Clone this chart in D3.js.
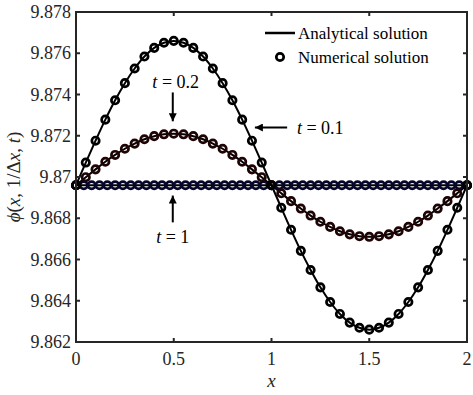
<!DOCTYPE html>
<html>
<head>
<meta charset="utf-8">
<script src="https://cdn.jsdelivr.net/npm/d3@7"></script>
<style>
  body { margin: 0; background: #fff; }
  svg text { font-family: "Liberation Serif", "DejaVu Serif", serif; }
</style>
</head>
<body>
<div id="chart"></div>
<script>
// x grid of the coarse curves (t = 0.1, 0.2)
const xGrid = [0, 0.05, 0.1, 0.15, 0.2, 0.25, 0.3, 0.35, 0.4, 0.45, 0.5, 0.55, 0.6, 0.65, 0.7, 0.75,
  0.8, 0.85, 0.9, 0.95, 1, 1.05, 1.1, 1.15, 1.2, 1.25, 1.3, 1.35, 1.4, 1.45, 1.5, 1.55, 1.6, 1.65,
  1.7, 1.75, 1.8, 1.85, 1.9, 1.95, 2];
// finer grid of the t = 1 curve
const xFine = [0, 0.04, 0.08, 0.12, 0.16, 0.2, 0.24, 0.28, 0.32, 0.36, 0.4, 0.44, 0.48, 0.52, 0.56,
  0.6, 0.64, 0.68, 0.72, 0.76, 0.8, 0.84, 0.88, 0.92, 0.96, 1, 1.04, 1.08, 1.12, 1.16, 1.2, 1.24,
  1.28, 1.32, 1.36, 1.4, 1.44, 1.48, 1.52, 1.56, 1.6, 1.64, 1.68, 1.72, 1.76, 1.8, 1.84, 1.88, 1.92,
  1.96, 2];

const phiT01 = [9.86960, 9.87070, 9.87176, 9.87278, 9.87372, 9.87455, 9.87526, 9.87584, 9.87626,
  9.87651, 9.87660, 9.87651, 9.87626, 9.87584, 9.87526, 9.87455, 9.87372, 9.87278, 9.87176, 9.87070,
  9.86960, 9.86851, 9.86744, 9.86642, 9.86549, 9.86465, 9.86394, 9.86336, 9.86294, 9.86269, 9.86260,
  9.86269, 9.86294, 9.86336, 9.86394, 9.86465, 9.86549, 9.86642, 9.86744, 9.86851, 9.86960];
const phiT02 = [9.86960, 9.86999, 9.87037, 9.87074, 9.87107, 9.87137, 9.87162, 9.87183, 9.87198,
  9.87207, 9.87210, 9.87207, 9.87198, 9.87183, 9.87162, 9.87137, 9.87107, 9.87074, 9.87037, 9.86999,
  9.86960, 9.86921, 9.86883, 9.86847, 9.86813, 9.86783, 9.86758, 9.86737, 9.86722, 9.86713, 9.86710,
  9.86713, 9.86722, 9.86737, 9.86758, 9.86783, 9.86813, 9.86847, 9.86883, 9.86921, 9.86960];
const phiT1 = xFine.map(() => 9.86960);

const yTicks = [9.862, 9.864, 9.866, 9.868, 9.87, 9.872, 9.874, 9.876, 9.878];
const xTicks = [0, 0.5, 1, 1.5, 2];

const width = 473, height = 395;
const margin = { left: 76, right: 6, top: 12, bottom: 53 };
const serif = '"Liberation Serif", "DejaVu Serif", serif';

const svg = d3.select('#chart').append('svg')
  .attr('width', width).attr('height', height);

const x = d3.scaleLinear().domain([0, 2]).range([margin.left, width - margin.right]);
const y = d3.scaleLinear().domain([9.862, 9.878]).range([height - margin.bottom, margin.top]);

const curves = [
  { xs: xGrid, ys: phiT01, color: '#000000' },
  { xs: xGrid, ys: phiT02, color: '#1e0404' },
  { xs: xFine, ys: phiT1, color: '#06062a' }
];

const line = d3.line().curve(d3.curveCatmullRom)
  .x(d => x(d[0])).y(d => y(d[1]));

// analytical lines
curves.forEach(c => {
  svg.append('path')
    .datum(c.xs.map((v, i) => [v, c.ys[i]]))
    .attr('d', line)
    .attr('fill', 'none')
    .attr('stroke', '#000')
    .attr('stroke-width', 2);
});

// numerical markers
curves.slice().reverse().forEach(c => {
  svg.append('g').selectAll('circle')
    .data(c.xs.map((v, i) => [v, c.ys[i]]))
    .join('circle')
    .attr('cx', d => x(d[0]))
    .attr('cy', d => y(d[1]))
    .attr('r', 3.7)
    .attr('fill', 'none')
    .attr('stroke', c.color)
    .attr('stroke-width', 2.7);
});

// axes box and ticks
const axisColor = '#262626';
const tickLen = 4;
const gAx = svg.append('g');
gAx.append('rect')
  .attr('x', x(0)).attr('y', y(9.878))
  .attr('width', x(2) - x(0)).attr('height', y(9.862) - y(9.878))
  .attr('fill', 'none').attr('stroke', axisColor).attr('stroke-width', 2);

yTicks.forEach(t => {
  gAx.append('line').attr('x1', x(0)).attr('x2', x(0) + tickLen)
    .attr('y1', y(t)).attr('y2', y(t)).attr('stroke', axisColor).attr('stroke-width', 2);
  gAx.append('line').attr('x1', x(2)).attr('x2', x(2) - tickLen)
    .attr('y1', y(t)).attr('y2', y(t)).attr('stroke', axisColor).attr('stroke-width', 2);
  gAx.append('text').attr('x', x(0) - 5).attr('y', y(t) + 6)
    .attr('text-anchor', 'end').attr('font-size', 18).attr('font-family', serif).attr('fill', '#262626')
    .text(d3.format('.3~f')(t));
});
xTicks.forEach(t => {
  gAx.append('line').attr('x1', x(t)).attr('x2', x(t))
    .attr('y1', y(9.862)).attr('y2', y(9.862) - tickLen).attr('stroke', axisColor).attr('stroke-width', 2);
  gAx.append('line').attr('x1', x(t)).attr('x2', x(t))
    .attr('y1', y(9.878)).attr('y2', y(9.878) + tickLen).attr('stroke', axisColor).attr('stroke-width', 2);
  gAx.append('text').attr('x', x(t)).attr('y', y(9.862) + 23)
    .attr('text-anchor', 'middle').attr('font-size', 18).attr('font-family', serif).attr('fill', '#262626')
    .text(t);
});

// axis labels
svg.append('text').attr('x', (x(0) + x(2)) / 2).attr('y', 387)
  .attr('text-anchor', 'middle').attr('font-size', 19).attr('font-style', 'italic')
  .attr('font-family', serif).attr('fill', '#262626').text('x');
svg.append('text')
  .attr('transform', `translate(20,${(y(9.862) + y(9.878)) / 2}) rotate(-90)`)
  .attr('text-anchor', 'middle').attr('font-size', 19).attr('font-family', serif).attr('fill', '#262626')
  .html('<tspan font-style="italic">ϕ</tspan>(<tspan font-style="italic">x</tspan>, 1/Δ<tspan font-style="italic">x</tspan>, <tspan font-style="italic">t</tspan>)');

// legend
const lg = svg.append('g');
lg.append('line').attr('x1', 265).attr('x2', 295).attr('y1', 33).attr('y2', 33)
  .attr('stroke', '#000').attr('stroke-width', 2.5);
lg.append('text').attr('x', 298).attr('y', 39).attr('font-size', 17).attr('font-family', serif)
  .text('Analytical solution');
lg.append('circle').attr('cx', 280).attr('cy', 57).attr('r', 3.7)
  .attr('fill', 'none').attr('stroke', '#000').attr('stroke-width', 2.7);
lg.append('text').attr('x', 298).attr('y', 63).attr('font-size', 17).attr('font-family', serif)
  .text('Numerical solution');

// annotations
svg.append('defs').append('marker')
  .attr('id', 'head').attr('viewBox', '0 0 10 10')
  .attr('refX', 10).attr('refY', 5)
  .attr('markerWidth', 4).attr('markerHeight', 4)
  .attr('markerUnits', 'strokeWidth')
  .attr('orient', 'auto')
  .append('path').attr('d', 'M0,0 L10,5 L0,10 Z').attr('fill', '#000');

function arrow(x1, y1, x2, y2) {
  svg.append('line').attr('x1', x(x1)).attr('y1', y(y1)).attr('x2', x(x2)).attr('y2', y(y2))
    .attr('stroke', '#000').attr('stroke-width', 2).attr('marker-end', 'url(#head)');
}
function label(xv, yv, anchor, val) {
  svg.append('text').attr('x', x(xv)).attr('y', y(yv)).attr('text-anchor', anchor)
    .attr('font-size', 18).attr('font-family', serif)
    .html(`<tspan font-style="italic">t</tspan> = ${val}`);
}
arrow(0.495, 9.8741, 0.495, 9.8727);
label(0.51, 9.8743, 'middle', '0.2');
arrow(1.08, 9.8724, 0.915, 9.8724);
label(1.13, 9.8721, 'start', '0.1');
arrow(0.495, 9.8678, 0.495, 9.8691);
label(0.495, 9.8668, 'middle', '1');
</script>
</body>
</html>
